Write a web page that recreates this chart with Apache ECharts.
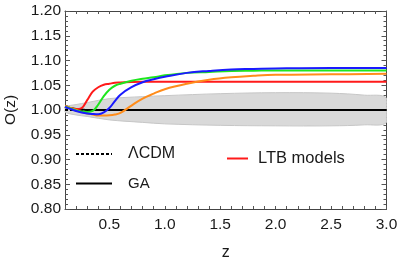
<!DOCTYPE html>
<html>
<head>
<meta charset="utf-8">
<script src="https://cdn.jsdelivr.net/npm/echarts@6/dist/echarts.min.js"></script>
<style>html,body{margin:0;padding:0;background:#fff}#c{width:399px;height:264px}</style>
</head>
<body>
<div id="c"></div>
<script>
// z grid shared by all curves
const zGrid     = [0.1,   0.15,  0.2,   0.25,  0.3,   0.35,  0.4,    0.45,  0.5,    0.55,  0.6,    0.7,    0.8,   0.9,   1.0,   1.2,   1.4,   1.6,   1.8,    2.0,   2.5,   3.0];
const ltbRed    = [1.006, 1.004, 1.002, 1.004, 1.020, 1.037, 1.046,  1.051, 1.053,  1.055, 1.0555, 1.0565, 1.057, 1.057, 1.057, 1.057, 1.057, 1.057, 1.057,  1.057, 1.057, 1.057];
const ltbGreen  = [1.006, 1.003, 0.999, 0.997, 0.996, 0.998, 1.011,  1.028, 1.041,  1.049, 1.053,  1.059,  1.063, 1.066, 1.070, 1.075, 1.077, 1.079, 1.0795, 1.080, 1.080, 1.080];
const ltbBlue   = [1.006, 1.002, 0.998, 0.995, 0.993, 0.992, 0.9915, 0.995, 1.004,  1.018, 1.031,  1.046,  1.056, 1.062, 1.067, 1.075, 1.079, 1.082, 1.083,  1.084, 1.085, 1.085];
const ltbOrange = [1.008, 1.004, 1.000, 0.996, 0.993, 0.991, 0.989,  0.989, 0.9895, 0.991, 0.994,  1.009,  1.023, 1.033, 1.042, 1.053, 1.061, 1.066, 1.069,  1.071, 1.072, 1.073];
const gaLine    = [1.006, 1.004, 1.002, 1.001, 1.000, 1.000, 1.000,  1.000, 1.000,  1.000, 1.000,  1.000,  1.000, 1.000, 1.000, 1.000, 1.000, 1.000, 1.000,  1.000, 1.000, 1.000];
const lcdmLine  = [1.000, 1.000, 1.000, 1.000, 1.000, 1.000, 1.000,  1.000, 1.000,  1.000, 1.000,  1.000,  1.000, 1.000, 1.000, 1.000, 1.000, 1.000, 1.000,  1.000, 1.000, 1.000];
// error band
const bandZ     = [0.1,   0.2,   0.3,   0.5,   0.8,   1.0,   1.5,   2.0,   2.5,   2.8,   3.0];
const bandUpper = [1.006, 1.011, 1.015, 1.023, 1.027, 1.029, 1.033, 1.035, 1.034, 1.030, 1.024];
const bandLower = [0.996, 0.990, 0.987, 0.980, 0.975, 0.972, 0.969, 0.968, 0.968, 0.970, 0.975];
// ticks
const xLabelTicks = [0.5, 1.0, 1.5, 2.0, 2.5, 3.0];
const xMinorTicks = [0.1,0.2,0.3,0.4,0.5,0.6,0.7,0.8,0.9,1.0,1.1,1.2,1.3,1.4,1.5,1.6,1.7,1.8,1.9,2.0,2.1,2.2,2.3,2.4,2.5,2.6,2.7,2.8,2.9,3.0];

const FONT = 'Liberation Sans, Arial, sans-serif';
const pairs = (xs, ys) => xs.map((x, i) => [x, ys[i]]);

const frameColor = '#444';
const tickColor = '#555';

const G = {left: 65, top: 11, width: 321.5, height: 198};

const xBase = {
  type: 'value', min: 0.1, max: 3.0,
  axisLine: {show: true, onZero: false, lineStyle: {color: frameColor, width: 1}},
  splitLine: {show: false},
};
const yBase = {
  type: 'value', min: 0.8, max: 1.2, interval: 0.05,
  axisLine: {show: true, onZero: false, lineStyle: {color: frameColor, width: 1}},
  axisTick: {show: true, inside: true, length: 5, lineStyle: {color: tickColor}},
  minorTick: {show: true, splitNumber: 5, length: 3, lineStyle: {color: tickColor}},
  splitLine: {show: false},
};

const chart = echarts.init(document.getElementById('c'), null, {renderer: 'canvas'});
const lineS = (name, ys, color, z) => ({
  name, type: 'line', data: pairs(zGrid, ys), smooth: 0.4, symbol: 'none', z,
  lineStyle: {color, width: 2}, xAxisIndex: 0, yAxisIndex: 0
});

chart.setOption({
  animation: false,
  grid: Object.assign({containLabel: false, outerBoundsMode: 'none'}, G),
  xAxis: [
    Object.assign({}, xBase, {position: 'bottom',
      axisTick: {show: true, inside: true, length: 3, customValues: xMinorTicks, lineStyle: {color: tickColor}},
      axisLabel: {show: true, customValues: xLabelTicks, formatter: v => v.toFixed(1), color: '#1a1a1a', fontSize: 15.5, fontFamily: FONT, margin: 8},
      name: 'z', nameLocation: 'middle', nameGap: 36, nameTextStyle: {fontSize: 16, color: '#1a1a1a', fontFamily: FONT}
    }),
    Object.assign({}, xBase, {position: 'top',
      axisTick: {show: true, inside: true, length: 3, customValues: xMinorTicks, lineStyle: {color: tickColor}},
      axisLabel: {show: false, customValues: xLabelTicks}
    })
  ],
  yAxis: [
    Object.assign({}, yBase, {position: 'left',
      axisLabel: {show: true, formatter: v => v.toFixed(2), color: '#1a1a1a', fontSize: 15.5, fontFamily: FONT, margin: 4},
      name: 'O(z)', nameLocation: 'middle', nameGap: 46, nameRotate: 90,
      nameTextStyle: {fontSize: 15.5, color: '#1a1a1a', fontFamily: FONT}
    }),
    Object.assign({}, yBase, {position: 'right', axisLabel: {show: false}})
  ],
  series: [
    {name: 'band', type: 'custom', data: [0], z: 1, silent: true,
     renderItem: function (params, api) {
       const up = bandZ.map((x, i) => api.coord([x, bandUpper[i]]));
       const lo = bandZ.map((x, i) => api.coord([x, bandLower[i]])).reverse();
       return {
         type: 'polygon',
         shape: {points: up.concat(lo), smooth: 0.35,
                 smoothConstraint: [[G.left, G.top], [G.left + G.width, G.top + G.height]]},
         style: {fill: '#d9d9d9', stroke: '#c6c6c6', lineWidth: 1}
       };
     }},
    lineS('GA', gaLine, '#000000', 2),
    {name: 'ΛCDM', type: 'line', data: pairs(zGrid, lcdmLine), symbol: 'none', z: 3,
     lineStyle: {color: '#000', width: 2, type: [3, 2]}},
    lineS('LTB red', ltbRed, '#ff1a1a', 4),
    lineS('LTB orange', ltbOrange, '#ff8c1a', 4),
    lineS('LTB green', ltbGreen, '#1ee61e', 4),
    lineS('LTB blue', ltbBlue, '#1a1aff', 5)
  ],
  graphic: [
    {type: 'line', z: 100, shape: {x1: 76, y1: 154, x2: 112, y2: 154}, style: {stroke: '#000', lineWidth: 2, lineDash: [3, 2]}},
    {type: 'text', z: 100, x: 128, y: 154, style: {text: 'ΛCDM', fill: '#1a1a1a', font: '16px ' + FONT, verticalAlign: 'middle'}},
    {type: 'line', z: 100, shape: {x1: 76, y1: 183.5, x2: 112, y2: 183.5}, style: {stroke: '#000', lineWidth: 2}},
    {type: 'text', z: 100, x: 128, y: 183.5, style: {text: 'GA', fill: '#1a1a1a', font: '15px ' + FONT, verticalAlign: 'middle'}},
    {type: 'line', z: 100, shape: {x1: 227, y1: 158.5, x2: 248, y2: 158.5}, style: {stroke: '#ff1a1a', lineWidth: 2}},
    {type: 'text', z: 100, x: 258, y: 158.5, style: {text: 'LTB models', fill: '#1a1a1a', font: '16.5px ' + FONT, verticalAlign: 'middle'}}
  ]
});
</script>
</body>
</html>
